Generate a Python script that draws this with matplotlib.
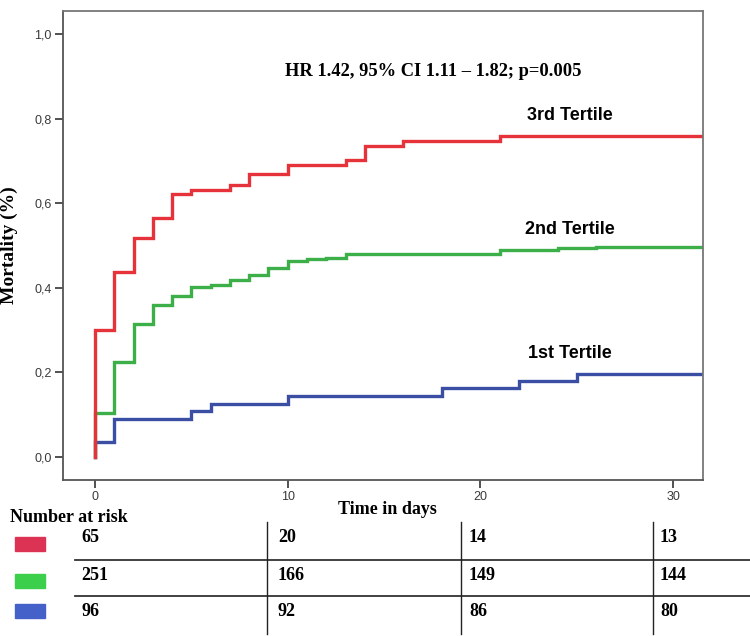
import numpy as np
import matplotlib.pyplot as plt
from matplotlib.lines import Line2D
from matplotlib.patches import Rectangle

# ── Data (day of step, cumulative mortality after step) ──
t_3rd = [0, 1, 2, 3, 4, 5, 7, 8, 10, 13, 14, 16, 21]
m_3rd = [0.301, 0.438, 0.518, 0.564, 0.621, 0.632, 0.644, 0.668, 0.690,
         0.701, 0.735, 0.747, 0.758]

t_2nd = [0, 1, 2, 3, 4, 5, 6, 7, 8, 9, 10, 11, 12, 13, 21, 24, 26]
m_2nd = [0.104, 0.224, 0.315, 0.360, 0.381, 0.403, 0.407, 0.419, 0.430,
         0.448, 0.463, 0.467, 0.471, 0.479, 0.489, 0.493, 0.497]

t_1st = [0, 1, 5, 6, 10, 18, 22, 25]
m_1st = [0.035, 0.090, 0.108, 0.126, 0.144, 0.163, 0.181, 0.197]

groups = ["3rd Tertile", "2nd Tertile", "1st Tertile"]
risk_3rd = [65, 20, 14, 13]
risk_2nd = [251, 166, 149, 144]
risk_1st = [96, 92, 86, 80]

x_ticks = [0, 10, 20, 30]
y_ticks = [0.0, 0.2, 0.4, 0.6, 0.8, 1.0]
y_ticklabels = ["0,0", "0,2", "0,4", "0,6", "0,8", "1,0"]

hr_text = "HR 1.42, 95% CI 1.11 \u2013 1.82; p=0.005"

line_colors = ["#e5323b", "#3caf48", "#3a4fa3"]
swatch_colors = ["#dc3355", "#3ccf4c", "#4361c9"]

W, H = 750, 636
SERIF = "Liberation Serif"
SANS = "Liberation Sans"


def fx(px):
    return px / W


def fy(py):
    return 1 - py / H


fig = plt.figure(figsize=(W / 100, H / 100), dpi=100)
ax = fig.add_axes([fx(63), fy(480), fx(703) - fx(63), fy(11) - fy(480)])
ax.set_xlim(-1.66, 31.55)
ax.set_ylim(-0.054, 1.054)
x_end = ax.get_xlim()[1]


def km_step(ax, times, vals, color):
    xs = [0] + list(times) + [x_end]
    ys = [0] + list(vals) + [vals[-1]]
    ax.step(xs, ys, where="post", color=color, lw=2.4, solid_joinstyle="miter")


km_step(ax, t_1st, m_1st, line_colors[2])
km_step(ax, t_2nd, m_2nd, line_colors[1])
km_step(ax, t_3rd, m_3rd, line_colors[0])

# ── Frame and ticks ───────────────────────────────────────
for s in ax.spines.values():
    s.set_color("#777777")
    s.set_linewidth(1.3)
ax.spines["left"].set_color("#555555")
ax.spines["bottom"].set_color("#555555")
ax.set_xticks(x_ticks)
ax.set_yticks(y_ticks)
ax.set_yticklabels(y_ticklabels)
ax.tick_params(direction="out", length=6, width=1.2, color="#333333",
               labelsize=9, labelcolor="#3a3a3a", pad=2)
for lab in ax.get_xticklabels() + ax.get_yticklabels():
    lab.set_fontfamily(SANS)

ax.set_ylabel("Mortality (%)", fontfamily=SERIF, fontweight="bold",
              fontsize=14, labelpad=12)
fig.text(fx(387), fy(510), "Time in days", ha="center", va="center",
         fontfamily=SERIF, fontweight="bold", fontsize=13)

fig.text(fx(433), fy(72), hr_text, ha="center", va="center",
         fontfamily=SERIF, fontweight="bold", fontsize=13.3)

for name, py in zip(groups, [116, 230, 353]):
    fig.text(fx(570), fy(py), name, ha="center", va="center",
             fontfamily=SANS, fontweight="bold", fontsize=13)

# ── Number at risk table ──────────────────────────────────
fig.text(fx(10), fy(517), "Number at risk", ha="left", va="center",
         fontfamily=SERIF, fontweight="bold", fontsize=13)

row_y = [538, 576, 611]
swatch_y = [544, 581, 611]
col_x = [81, 278, 469, 660]
for risk, py, sy, col in zip([risk_3rd, risk_2nd, risk_1st], row_y, swatch_y,
                             swatch_colors):
    fig.patches.append(Rectangle((fx(15), fy(sy + 7)), fx(45) - fx(15),
                                 fy(sy - 7) - fy(sy + 7),
                                 transform=fig.transFigure, color=col))
    for val, px in zip(risk, col_x):
        fig.text(fx(px), fy(py), str(val), ha="left", va="center",
                 fontfamily=SERIF, fontweight="bold", fontsize=13)

for py in [560, 596]:
    fig.lines.append(Line2D([fx(75), 1], [fy(py), fy(py)],
                            transform=fig.transFigure, color="#333333", lw=1.3))
for px in [267, 461, 653]:
    fig.lines.append(Line2D([fx(px), fx(px)], [fy(522), fy(634)],
                            transform=fig.transFigure, color="#222222", lw=1.0))

fig.savefig("out.png", dpi=100)
